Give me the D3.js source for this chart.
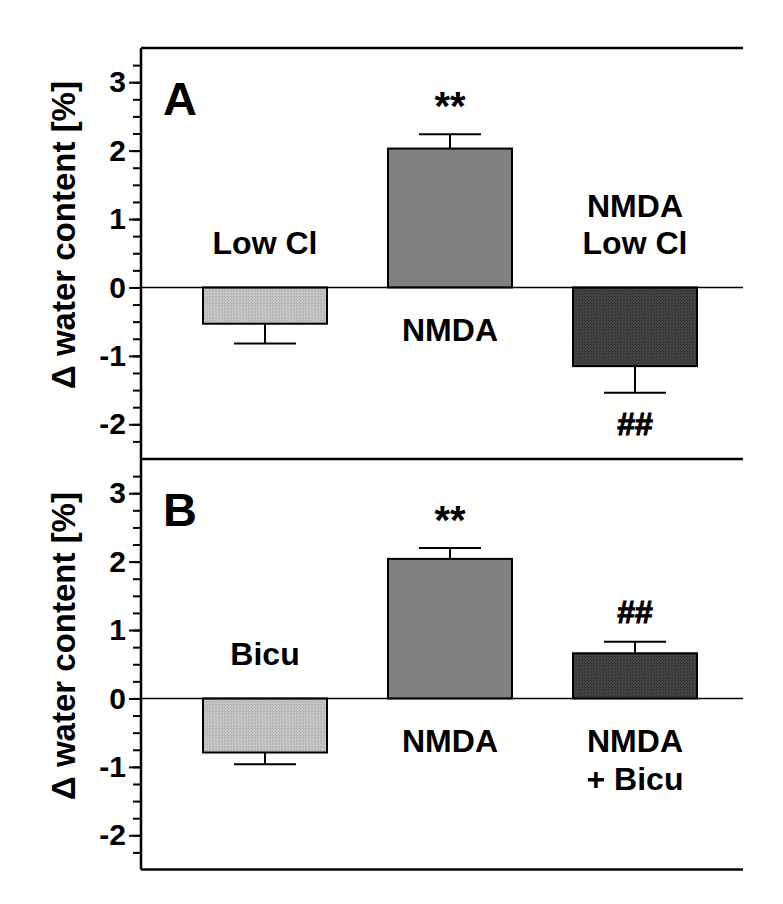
<!DOCTYPE html>
<html>
<head>
<meta charset="utf-8">
<script src="https://cdn.jsdelivr.net/npm/d3@7"></script>
<style>
  body { margin: 0; background: #fff; }
  svg text { font-family: "Liberation Sans", Arial, sans-serif; font-weight: bold; fill: #000; }
</style>
</head>
<body>
<svg id="chart" width="783" height="904"></svg>
<script>
var categories = ["ctrl", "nmda", "combo"];
var labelsA = [["Low Cl"], ["NMDA"], ["NMDA", "Low Cl"]];
var labelsB = [["Bicu"], ["NMDA"], ["NMDA", "+ Bicu"]];
var meansA = [-0.53, 2.03, -1.15];
var semA = [0.29, 0.21, 0.39];
var meansB = [-0.79, 2.04, 0.66];
var semB = [0.17, 0.16, 0.17];
var sigA = ["", "**", "##"];
var sigB = ["", "**", "##"];
var yTicks = [-2, -1, 0, 1, 2, 3];
var yDomain = [-2.5, 3.5];

var margin = {left: 141, right: 40},
  panelTops = [48, 459],
  panelH = 410.5,
  svg = d3.select("#chart"),
  width = +svg.attr("width");

var defs = svg.append("defs");
var makePattern = function(id, base, dot) {
  var p = defs.append("pattern").attr("id", id)
    .attr("patternUnits", "userSpaceOnUse").attr("width", 3).attr("height", 3);
  p.append("rect").attr("width", 3).attr("height", 3).attr("fill", base);
  p.append("rect").attr("width", 1).attr("height", 1).attr("fill", dot);
  p.append("rect").attr("x", 2).attr("y", 2).attr("width", 1).attr("height", 1).attr("fill", dot);
};
makePattern("light", "#c6c6c6", "#a8a8a8");
makePattern("dark", "#444444", "#2c2c2c");
var fills = ["url(#light)", "#808080", "url(#dark)"];

var x = d3.scalePoint().domain(categories).range([265, 635]);
var barW = 124;
var tickFmt = function(d) { return d < 0 ? "-" + Math.abs(d) : "" + d; };

var drawPanel = function(top, means, sems, labels, sigs, letter) {
  var y = d3.scaleLinear().domain(yDomain).range([top + panelH, top]);
  var g = svg.append("g");

  // minor ticks
  var minor = d3.range(yDomain[0] + 0.25, yDomain[1], 0.25);
  g.append("g").attr("transform", "translate(" + margin.left + ",0)")
    .call(d3.axisLeft(y).tickValues(minor).tickSize(8).tickFormat(""))
    .call(function(a) {
      a.select(".domain").remove();
      a.selectAll(".tick line").attr("stroke", "#000").attr("stroke-width", 2);
    });
  // major ticks
  g.append("g").attr("transform", "translate(" + margin.left + ",0)")
    .call(d3.axisLeft(y).tickValues(yTicks).tickSize(12).tickPadding(3).tickFormat(tickFmt))
    .call(function(a) {
      a.select(".domain").remove();
      a.selectAll(".tick line").attr("stroke", "#000").attr("stroke-width", 2);
      a.selectAll(".tick text").attr("font-size", 30).attr("font-family", "Liberation Sans").attr("font-weight", "bold").attr("fill", "#000");
    });

  // frame top line
  g.append("line").attr("x1", margin.left).attr("x2", width - margin.right)
    .attr("y1", y(yDomain[1])).attr("y2", y(yDomain[1]))
    .attr("stroke", "#000").attr("stroke-width", 2.5);

  // error bars
  categories.forEach(function(c, i) {
    var end = means[i] + (means[i] >= 0 ? sems[i] : -sems[i]);
    g.append("line").attr("x1", x(c)).attr("x2", x(c))
      .attr("y1", y(means[i])).attr("y2", y(end))
      .attr("stroke", "#000").attr("stroke-width", 2);
    g.append("line").attr("x1", x(c) - barW / 4).attr("x2", x(c) + barW / 4)
      .attr("y1", y(end)).attr("y2", y(end))
      .attr("stroke", "#000").attr("stroke-width", 2);
  });

  // bars
  g.selectAll("rect.bar").data(means).enter().append("rect")
    .attr("class", "bar")
    .attr("x", function(d, i) { return x(categories[i]) - barW / 2; })
    .attr("width", barW)
    .attr("y", function(d) { return y(Math.max(0, d)); })
    .attr("height", function(d) { return Math.abs(y(d) - y(0)); })
    .attr("fill", function(d, i) { return fills[i]; })
    .attr("stroke", "#000").attr("stroke-width", 2);

  // zero line
  g.append("line").attr("x1", margin.left).attr("x2", width - margin.right)
    .attr("y1", y(0)).attr("y2", y(0))
    .attr("stroke", "#000").attr("stroke-width", 1.5);

  // group labels: opposite side of the zero line from the bar
  categories.forEach(function(c, i) {
    var lines = labels[i];
    lines.forEach(function(t, j) {
      var yy = means[i] < 0
        ? y(0) - 44 - (lines.length - 1 - j) * 37
        : y(0) + 43 + j * 38;
      g.append("text").attr("x", x(c)).attr("y", yy)
        .attr("text-anchor", "middle").attr("dominant-baseline", "central")
        .attr("font-size", 32).text(t);
    });
    if (sigs[i]) {
      var end = means[i] + (means[i] >= 0 ? sems[i] : -sems[i]);
      var star = sigs[i] == "**";
      var yy = means[i] >= 0 ? y(end) - (star ? 28 : 30) : y(end) + 31;
      g.append("text").attr("x", x(c)).attr("y", yy)
        .attr("text-anchor", "middle").attr("dominant-baseline", "central")
        .attr("font-size", star ? 40 : 32)
        .attr("stroke", star ? "none" : "#000").attr("stroke-width", 1)
        .text(sigs[i]);
    }
  });

  g.append("text").attr("x", 163).attr("y", top + 67)
    .attr("font-size", 47).text(letter);

  g.append("text")
    .attr("transform", "translate(" + 75 + "," + (top + 187) + ") rotate(-90)")
    .attr("text-anchor", "middle").attr("font-size", 33)
    .text("\u0394 water content [%]");
};

drawPanel(panelTops[0], meansA, semA, labelsA, sigA, "A");
drawPanel(panelTops[1], meansB, semB, labelsB, sigB, "B");

// bottom line and left axis line
svg.append("line").attr("x1", margin.left).attr("x2", width - margin.right)
  .attr("y1", panelTops[1] + panelH).attr("y2", panelTops[1] + panelH)
  .attr("stroke", "#000").attr("stroke-width", 2.5);
svg.append("line").attr("x1", margin.left).attr("x2", margin.left)
  .attr("y1", panelTops[0]).attr("y2", panelTops[1] + panelH)
  .attr("stroke", "#000").attr("stroke-width", 2.5);
</script>
</body>
</html>
